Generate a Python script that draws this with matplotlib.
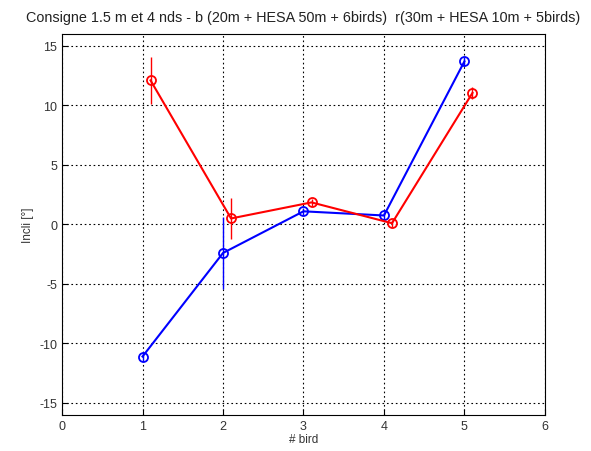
import numpy as np
import matplotlib
matplotlib.use('Agg')
from matplotlib import pyplot as plt

plt.rcParams['font.family'] = ['Liberation Sans', 'DejaVu Sans']
plt.rcParams['axes.unicode_minus'] = False

# données
bird_b = [1, 2, 3, 4, 5]
incli_b = [-11.1, -2.4, 1.1, 0.75, 13.7]
err_b = [0.4, 3.0, 0.3, 0.3, 0.4]

bird_r = [1.1, 2.1, 3.1, 4.1, 5.1]
incli_r = [12.1, 0.5, 1.85, 0.1, 11.05]
err_r = [2.0, 1.7, 0.3, 0.3, 0.5]

xticks = [0, 1, 2, 3, 4, 5, 6]
yticks = [-15, -10, -5, 0, 5, 10, 15]

fig = plt.figure(figsize=(5.91, 4.52), dpi=100)
ax = fig.add_axes([0.105, 0.080, 0.817, 0.8426])

ax.errorbar(bird_b, incli_b, yerr=err_b, color='blue', marker='o', mfc='none',
            ms=6.5, mew=1.3, lw=1.5, elinewidth=1.0, capsize=0)
ax.errorbar(bird_r, incli_r, yerr=err_r, color='red', marker='o', mfc='none',
            ms=6.5, mew=1.3, lw=1.5, elinewidth=1.0, capsize=0)

ax.set_xlim(0, 6)
ax.set_ylim(-16, 16)
ax.set_xticks(xticks)
ax.set_yticks(yticks)
ax.grid(True, linestyle=(0, (1.5, 2.5)), color='black', lw=0.8)
ax.tick_params(direction='in', labelsize=9, length=4, labelcolor='#333333')
for s in ax.spines.values():
    s.set_linewidth(0.8)

ax.set_xlabel('# bird', fontsize=8.5, labelpad=1, color='#333333')
ax.set_ylabel('Incli [°]', fontsize=8.5, color='#333333')
ax.set_title('Consigne 1.5 m et 4 nds - b (20m + HESA 50m + 6birds)  r(30m + HESA 10m + 5birds)',
             fontsize=10.4, pad=9, color='#222222')

plt.savefig('out.png', dpi=100)
